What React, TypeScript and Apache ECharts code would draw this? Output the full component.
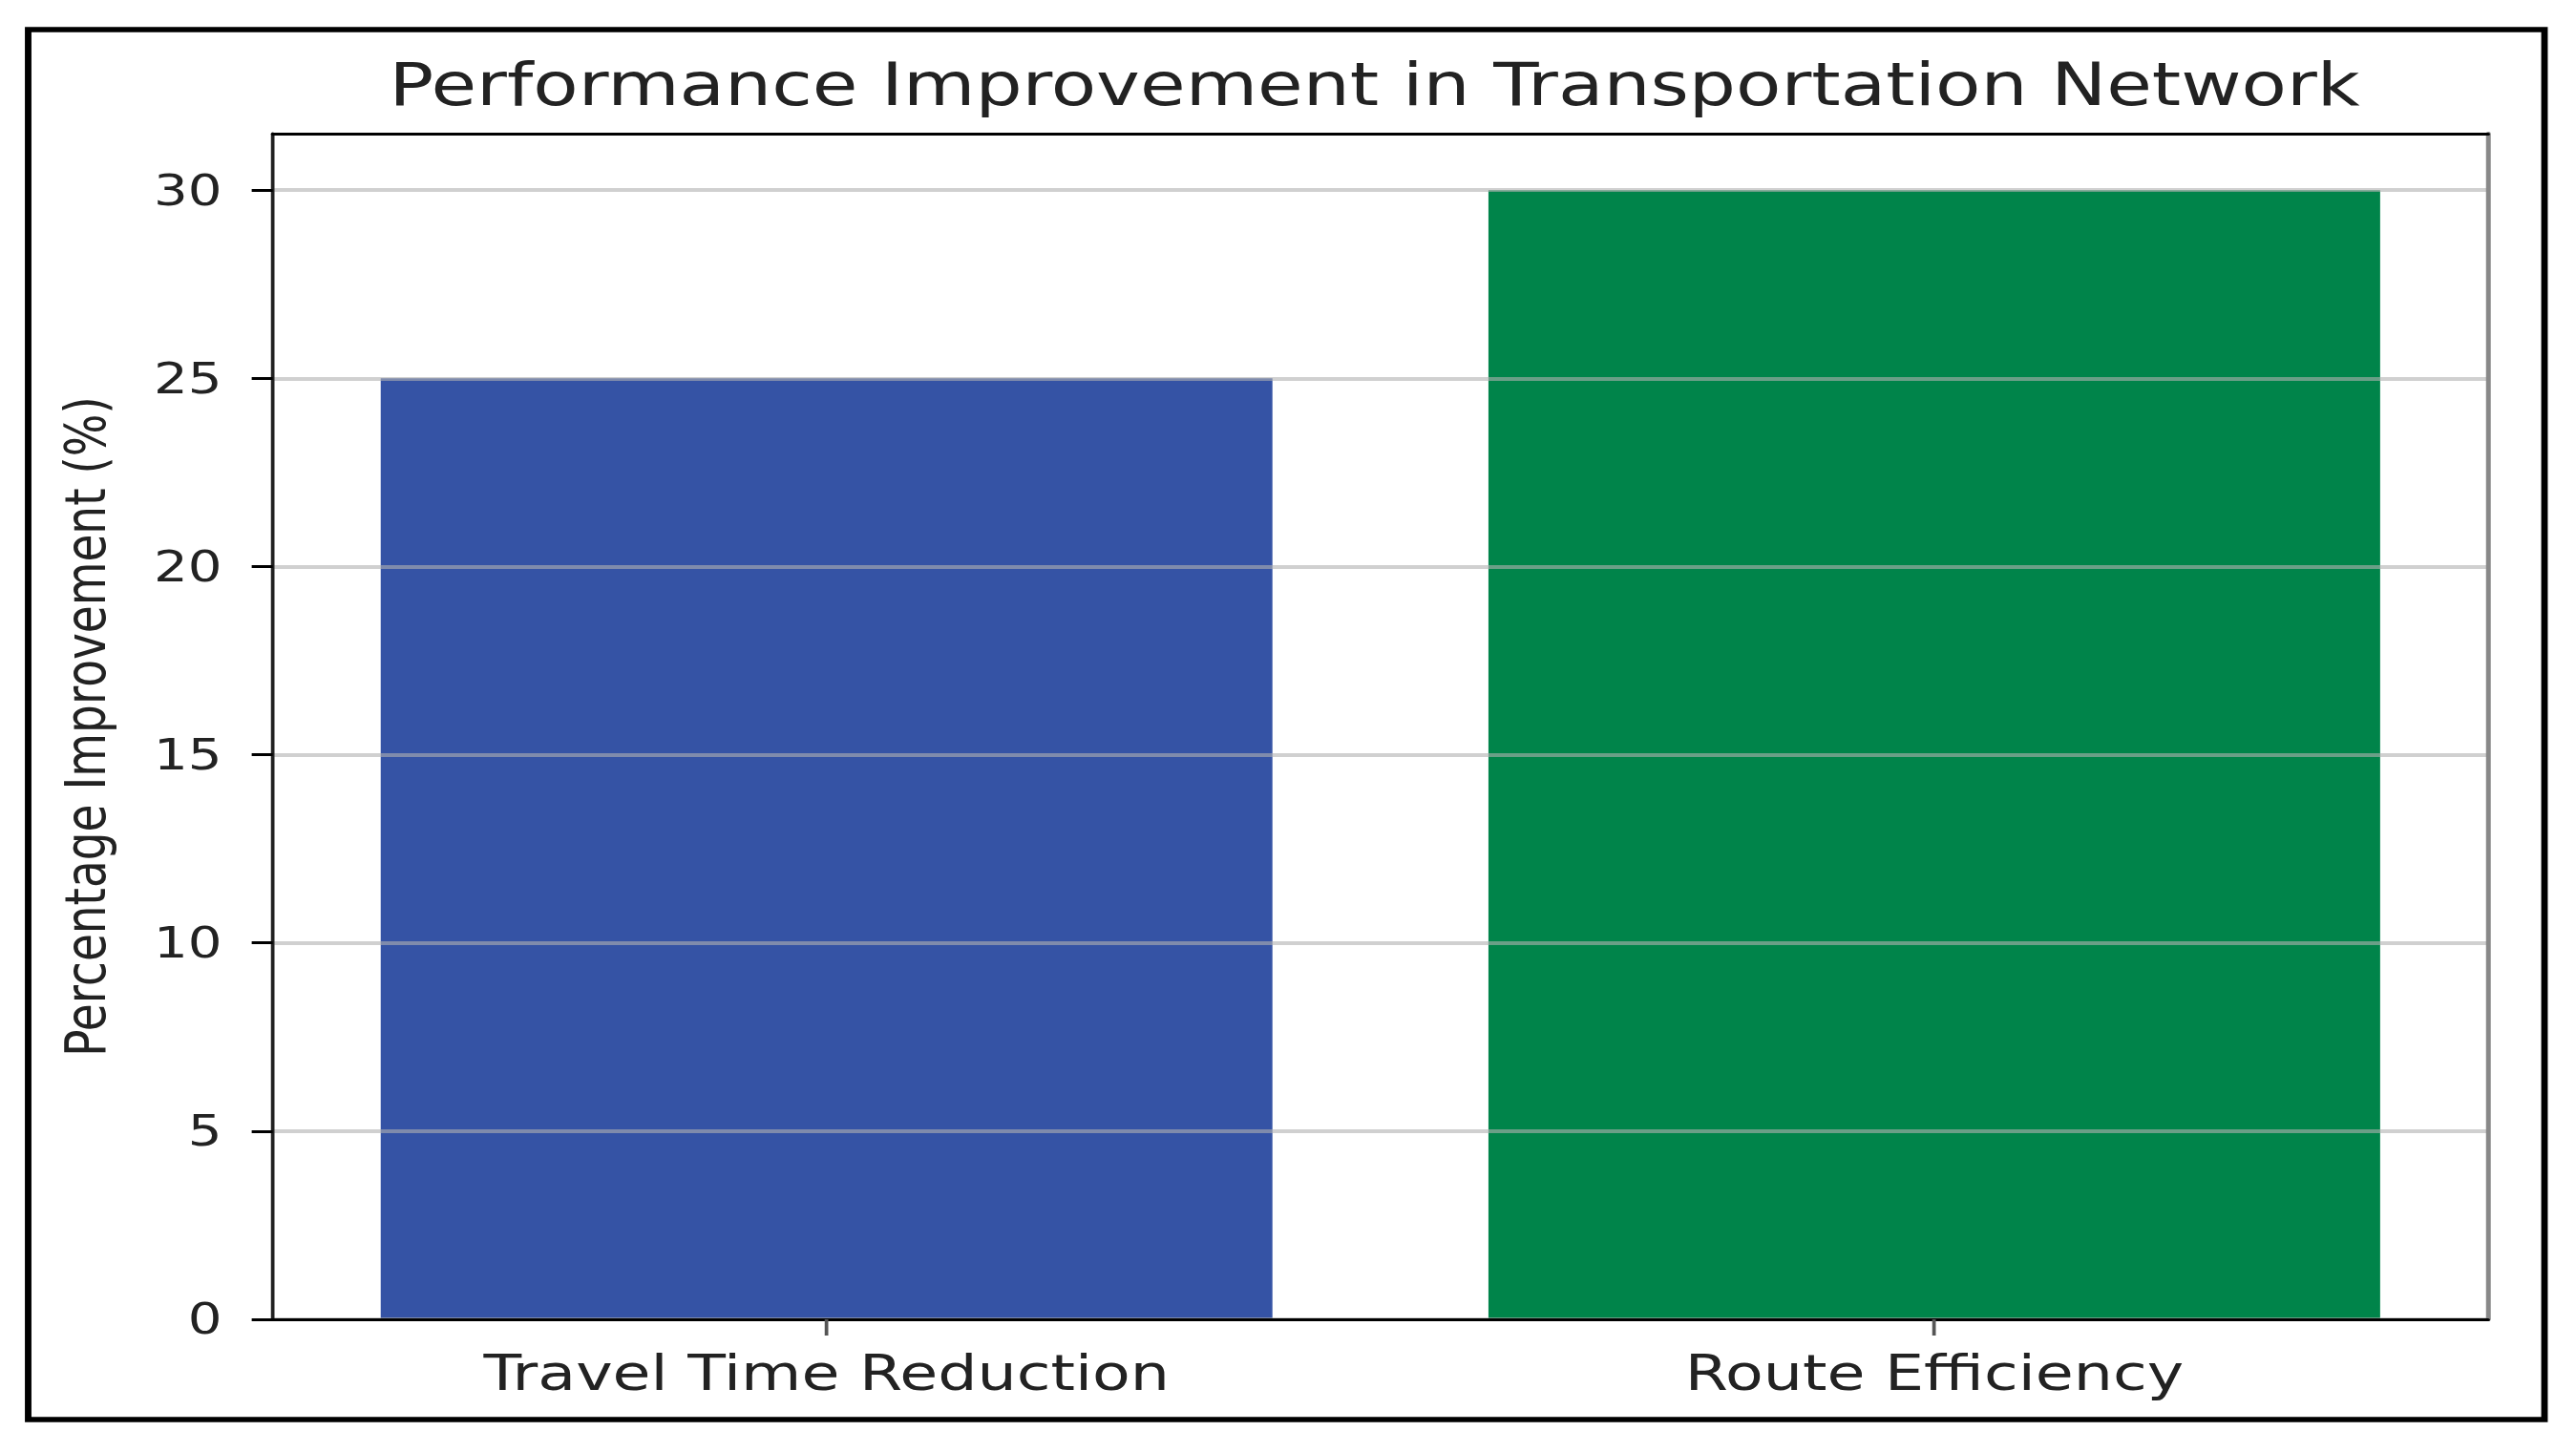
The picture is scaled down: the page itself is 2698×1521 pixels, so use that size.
import React, { useEffect, useRef } from "react";
import * as echarts from "echarts";

const titleText = "Performance Improvement in Transportation Network";
const categories = ["Travel Time Reduction", "Route Efficiency"];
const improvementValues = [25, 30];
const barColors = ["#3553A5", "#00844A"];
const yTickValues = [0, 5, 10, 15, 20, 25, 30];
const yAxisName = "Percentage Improvement (%)";

const STRETCH = 1.25;
const FULL_W = 2698;
const FULL_H = 1521;
const W = FULL_W / STRETCH;

export default function App() {
  const ref = useRef<HTMLDivElement | null>(null);
  useEffect(() => {
    if (!ref.current) return;
    const chart = echarts.init(ref.current, undefined, { renderer: "svg" });
    const font = "DejaVu Sans";
    const gridLeft = 228.5;
    const gridRight = 2084.8;
    const gridTop = 140;
    const gridBottom = 1382;
    chart.setOption({
      animation: false,
      backgroundColor: "#ffffff",
      title: {
        text: titleText,
        left: 326,
        top: 58,
        padding: 0,
        textStyle: { fontFamily: font, fontSize: 62, fontWeight: "normal", color: "#222222" },
      },
      grid: {
        left: gridLeft,
        top: gridTop,
        width: gridRight - gridLeft,
        height: gridBottom - gridTop,
        containLabel: false,
      },
      xAxis: [
        {
          type: "category",
          data: categories,
          position: "bottom",
          z: 5,
          axisLine: { show: true, onZero: false, lineStyle: { color: "#000000", width: 3 } },
          axisTick: { show: true, alignWithLabel: true, length: 17, lineStyle: { color: "#555555", width: 3 } },
          axisLabel: { margin: 30, fontFamily: font, fontSize: 52, color: "#222222" },
          splitLine: { show: false },
        },
        {
          type: "category",
          data: categories,
          position: "top",
          z: 5,
          axisLine: { show: true, onZero: false, lineStyle: { color: "#000000", width: 3 } },
          axisTick: { show: false },
          axisLabel: { show: false },
          splitLine: { show: false },
        },
      ],
      yAxis: [
        {
          type: "value",
          min: 0,
          max: 31.5,
          interval: 5,
          position: "left",
          z: 5,
          name: yAxisName,
          nameLocation: "middle",
          nameGap: 133,
          nameTextStyle: { fontFamily: font, fontSize: 47, color: "#222222" },
          axisLine: { show: true, lineStyle: { color: "#222222", width: 3 } },
          axisTick: {
            show: true,
            length: 17.6,
            customValues: yTickValues,
            lineStyle: { color: "#000000", width: 3 },
          },
          axisLabel: {
            margin: 42.5,
            customValues: yTickValues,
            fontFamily: font,
            fontSize: 45,
            color: "#222222",
          },
          splitLine: { show: true, lineStyle: { color: "rgba(176,176,176,0.6)", width: 4 } },
        },
        {
          type: "value",
          min: 0,
          max: 31.5,
          position: "right",
          z: 5,
          axisLine: { show: true, onZero: false, lineStyle: { color: "#888888", width: 4 } },
          axisTick: { show: false },
          axisLabel: { show: false },
          splitLine: { show: false },
        },
      ],
      series: [
        {
          type: "bar",
          xAxisIndex: 0,
          yAxisIndex: 0,
          barCategoryGap: "19.5%",
          data: improvementValues.map((v, i) => ({ value: v, itemStyle: { color: barColors[i] } })),
        },
      ],
      graphic: [
        {
          type: "rect",
          z: 10,
          shape: { x: 23.6, y: 31, width: 2108.4, height: 1456 },
          style: { fill: "none", stroke: "#000000", lineWidth: 5.5 },
        },
      ],
    });
    return () => chart.dispose();
  }, []);
  return (
    <div
      ref={ref}
      style={{
        position: "absolute",
        left: 0,
        top: 0,
        width: W + "px",
        height: FULL_H + "px",
        transform: `scaleX(${STRETCH})`,
        transformOrigin: "0 0",
        background: "#ffffff",
      }}
    />
  );
}
